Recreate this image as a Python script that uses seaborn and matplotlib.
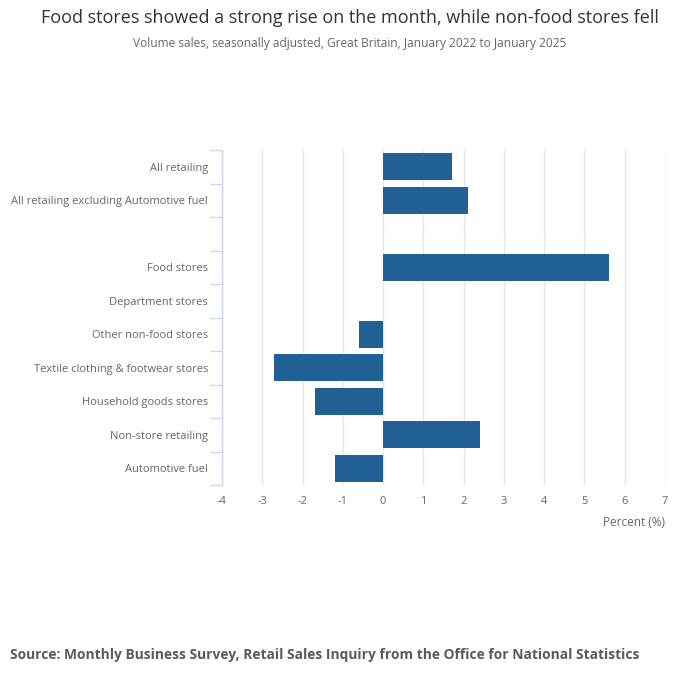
import numpy as np
import pandas as pd
import matplotlib
matplotlib.use("Agg")
import matplotlib.pyplot as plt
import seaborn as sns
from matplotlib.ticker import FixedLocator

categories = [
    "All retailing",
    "All retailing excluding Automotive fuel",
    " ",
    "Food stores",
    "Department stores",
    "Other non-food stores",
    "Textile clothing & footwear stores",
    "Household goods stores",
    "Non-store retailing",
    "Automotive fuel",
]
values = [1.7, 2.1, np.nan, 5.6, np.nan, -0.6, -2.7, -1.7, 2.4, -1.2]
x_ticks = [-4, -3, -2, -1, 0, 1, 2, 3, 4, 5, 6, 7]

title = "Food stores showed a strong rise on the month, while non-food stores fell"
subtitle = "Volume sales, seasonally adjusted, Great Britain, January 2022 to January 2025"
source = "Source: Monthly Business Survey, Retail Sales Inquiry from the Office for National Statistics"
x_label = "Percent (%)"

sns.set_theme(style="white")
plt.rcParams["font.family"] = ["Open Sans", "DejaVu Sans"]

df = pd.DataFrame({"category": categories, "value": values})

fig = plt.figure(figsize=(7.0, 6.82), dpi=100)
ax = fig.add_axes([222 / 700, 1 - 485 / 682, 443 / 700, 335 / 682])

sns.barplot(data=df, x="value", y="category", order=categories, orient="h",
            color="#206095", saturation=1, width=0.8, linewidth=0, ax=ax, zorder=3)

ax.set_xlim(-4, 7)
ax.set_ylim(len(categories) - 0.5, -0.5)
ax.set_xticks(x_ticks)
ax.set_xticklabels([str(t) for t in x_ticks])
ax.xaxis.grid(True, color="#e6e6e6", linewidth=1, zorder=0)
ax.yaxis.grid(False)
for s in ["top", "right", "bottom"]:
    ax.spines[s].set_visible(False)
ax.spines["left"].set_color("#ccd6eb")
ax.spines["left"].set_linewidth(1)

ax.set_yticks(range(len(categories)))
ax.set_yticklabels(categories)
ax.yaxis.set_minor_locator(FixedLocator(np.arange(-0.5, len(categories), 1.0)))
ax.tick_params(axis="y", which="major", length=0, pad=10, labelsize=8, labelcolor="#666666")
ax.tick_params(axis="y", which="minor", length=9, width=1, color="#ccd6eb", left=True)
ax.tick_params(axis="x", which="major", length=0, pad=8, labelsize=8, labelcolor="#666666")
ax.set_xlabel("")
ax.set_ylabel("")

fig.text(665 / 700, 1 - 522 / 682, x_label, ha="right", va="center", fontsize=8.5, color="#666666")
fig.text(350 / 700, 1 - 18 / 682, title, ha="center", va="center", fontsize=13.0, color="#333333")
fig.text(350 / 700, 1 - 44 / 682, subtitle, ha="center", va="center", fontsize=8.6, color="#666666")
fig.text(10 / 700, 1 - 655 / 682, source, ha="left", va="center", fontsize=9.9,
         fontweight="bold", color="#5a5a5a")

fig.savefig("out.png", dpi=100)
